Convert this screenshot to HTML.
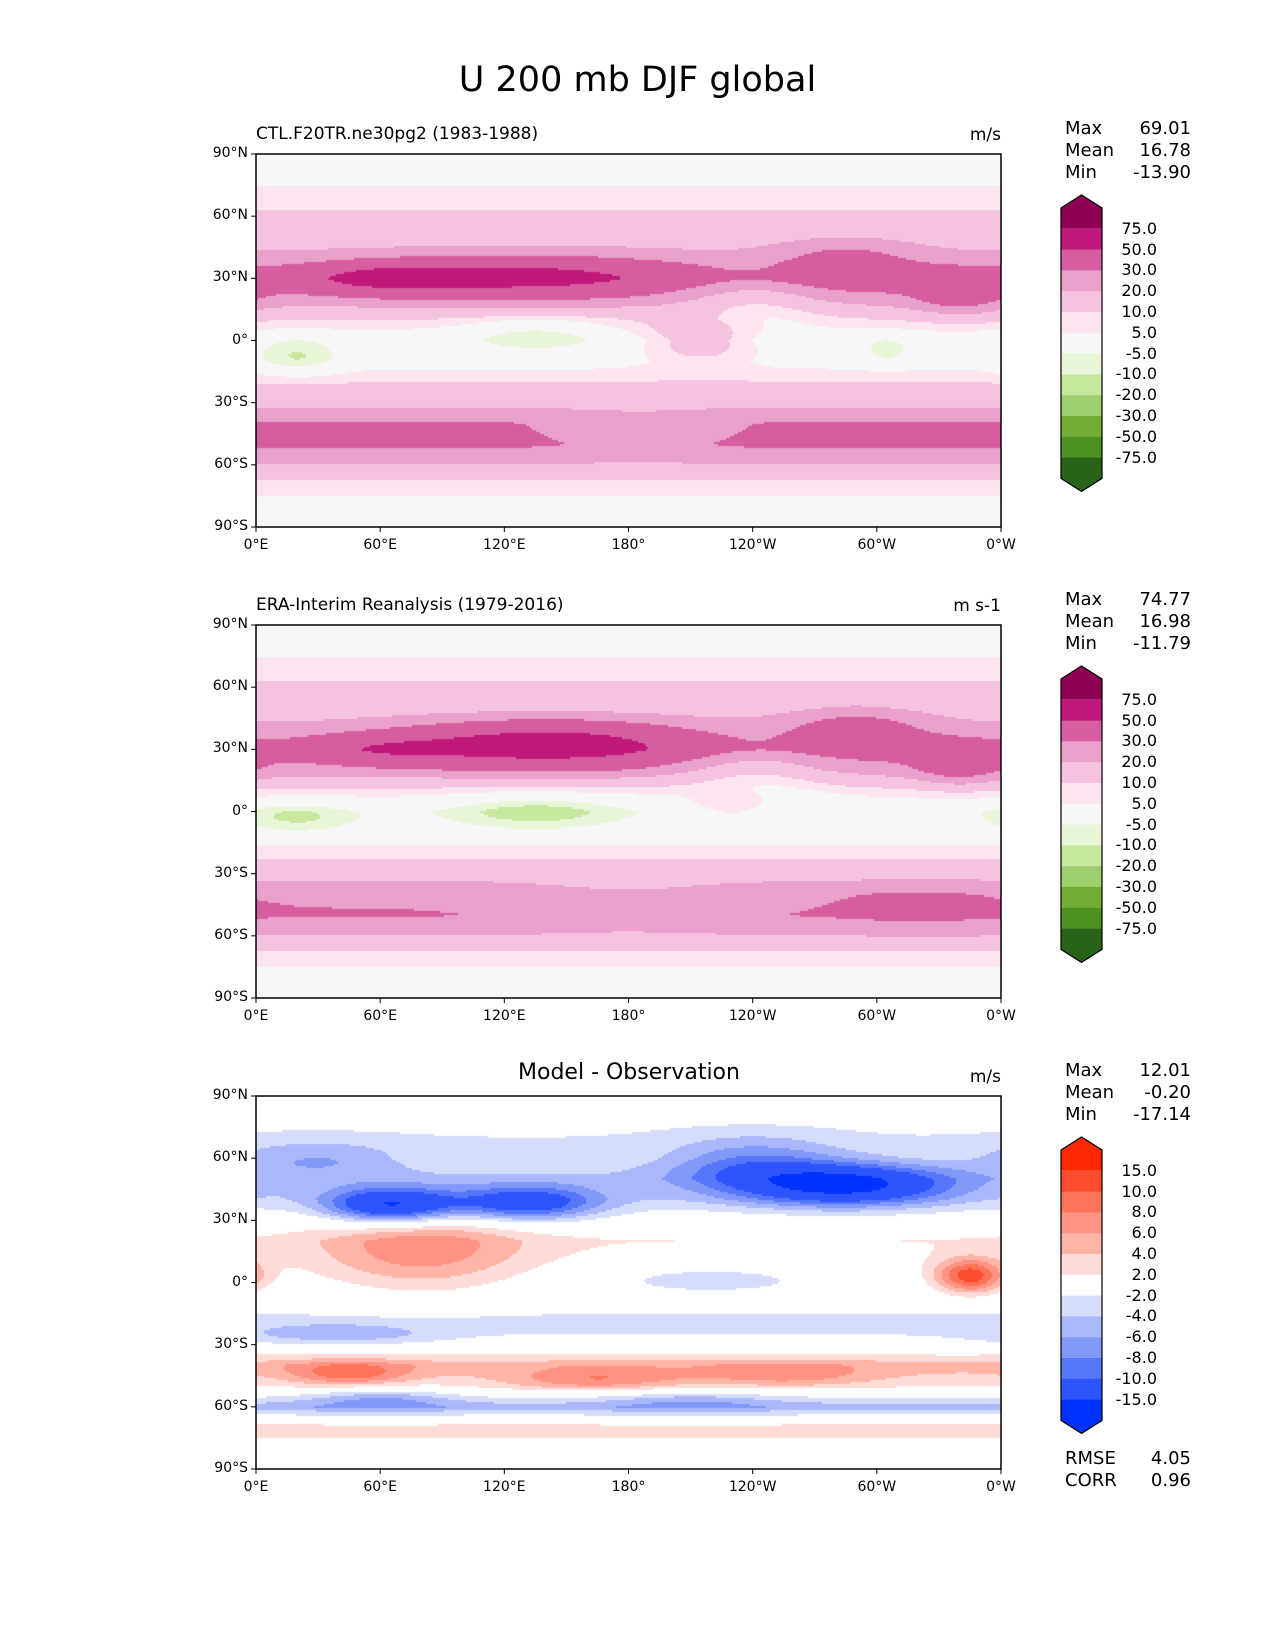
<!DOCTYPE html>
<html><head><meta charset="utf-8">
<style>
body{margin:0;background:#fff;}
#wrap{position:relative;width:1275px;height:1650px;background:#fff;font-family:"DejaVu Sans","Liberation Sans",sans-serif;color:#000;overflow:hidden;}
.t{position:absolute;white-space:nowrap;}
canvas{position:absolute;}
</style></head>
<body>
<div id="wrap">
<div class="t" style="left:0;width:1275px;text-align:center;top:60px;font-size:35px;">U 200 mb DJF global</div>
</div>
<script>
// ---- data ----
const lats=[90,80,70,60,50,40,30,20,10,0,-10,-20,-30,-40,-50,-60,-70,-80,-90];
const profModel=[1,3,7,11,14,22,34,24,10,0,2,10,17,31,33,20,7,3,1];
const profObs=[1,3,7,11,14,22,33,24,8,-2,0,8,16,28,31,20,7,3,1];
const profDiff=[0,-1,-2,-2,-4,-3,0,2,1,0,-1,-3,-1,5,2,-5,3,1,0];
// blobs: [lon, lat, amplitude, lonWidth, latWidth]
const blobsModel=[[125,31,26,55,7],[60,30,16,25,5],[285,38,14,25,9],[240,20,-12,25,10],[215,0,14,20,8],[20,-8,-12,15,6],[135,3,-10,25,6],[305,-5,-8,10,5],[340,22,15,15,7],[185,-45,-7,30,8]];
const blobsObs=[[140,33,32,50,8],[60,30,12,25,5],[290,40,16,25,8],[240,20,-12,25,10],[230,3,10,15,6],[20,-3,-10,20,5],[135,0,-12,30,6],[340,22,15,15,7],[180,-45,-8,40,8],[320,-45,5,25,6]];
const blobsDiff=[[65,37,-14,22,6],[130,38,-11,25,6],[285,47,-13,35,7],[240,57,-6,30,9],[30,60,-4,30,6],[345,3,11,12,6],[80,15,6,35,14],[45,-44,6,20,4],[165,-47,5,30,4],[255,-45,4,30,4],[60,-56,-4,25,4],[210,-57,-3,30,4],[220,2,-3,40,5],[40,-25,-4,30,3]];
const levFull=[-75,-50,-30,-20,-10,-5,5,10,20,30,50,75];
const levDiff=[-15,-10,-8,-6,-4,-2,2,4,6,8,10,15];
const colFull=["#276419","#4d9221","#71ad37","#9dcf6c","#c8e8a0","#e8f5d9","#f6f6f6","#fce5f0","#f5c3e0","#e9a0ca","#d65da0","#c0197b","#8e0152"];
const colDiff=["#0032ff","#2d55fd","#5677fb","#8199f9","#aab8fb","#d6dcfb","#ffffff","#ffdcd8","#ffb4a8","#ff9383","#ff7358","#ff4b2e","#ff2800"];
const lonTicks=["0°E","60°E","120°E","180°","120°W","60°W","0°W"];
const latTicks=["90°N","60°N","30°N","0°","30°S","60°S","90°S"];

const W=745,H=373,X0=256;
const wrap=document.getElementById('wrap');
function txt(name,s,x,y,size,align,extra){
  const d=document.createElement('div');d.className='t';
  
  
  d.textContent=s;d.style.fontSize=size+'px';d.style.top=y+'px';
  if(align==='right'){d.style.right=(1275-x)+'px';}
  else if(align==='center'){d.style.left=(x-200)+'px';d.style.width='400px';d.style.textAlign='center';}
  else d.style.left=x+'px';
  if(extra)Object.assign(d.style,extra);
  wrap.appendChild(d);return d;
}
function prof(p,lat){
  const i=(90-lat)/10;const a=Math.floor(i),b=Math.min(a+1,18);const f=i-a;
  return p[a]*(1-f)+p[b]*f;
}
function field(p,bl,lon,lat){
  let v=prof(p,lat);
  for(const b of bl){let dl=Math.abs(lon-b[0]);if(dl>180)dl=360-dl;
    v+=b[2]*Math.exp(-(dl*dl)/(2*b[3]*b[3])-((lat-b[1])*(lat-b[1]))/(2*b[4]*b[4]));}
  return v;
}
function panel(top,p,bl,lev,col,key){
  const c=document.createElement('canvas');c.width=W;c.height=H;c.style.left=X0+'px';c.style.top=top+'px';
  
  
  wrap.appendChild(c);
  const g=c.getContext('2d');
  for(let y=0;y<H;y+=2)for(let x=0;x<W;x+=2){
    const lon=(x+1)/W*360,lat=90-(y+1)/H*180;
    const v=field(p,bl,lon,lat);let k=0;while(k<lev.length&&v>lev[k])k++;
    g.fillStyle=col[k];g.fillRect(x,y,2,2);
  }
  const ns='http://www.w3.org/2000/svg';
  const s=document.createElementNS(ns,'svg');
  s.setAttribute('width',W+60);s.setAttribute('height',H+20);
  s.style.position='absolute';s.style.left=(X0-30)+'px';s.style.top=top+'px';s.style.overflow='visible';
  
  
  const r=document.createElementNS(ns,'rect');r.setAttribute('x',30);r.setAttribute('y',0);r.setAttribute('width',W);r.setAttribute('height',H);
  r.setAttribute('fill','none');r.setAttribute('stroke','#000');r.setAttribute('stroke-width','1.5');s.appendChild(r);
  for(let i=0;i<7;i++){
    const x=30+i*W/6;const l=document.createElementNS(ns,'line');
    l.setAttribute('x1',x);l.setAttribute('x2',x);l.setAttribute('y1',H);l.setAttribute('y2',H+5);l.setAttribute('stroke','#000');s.appendChild(l);
    const y=i*H/6;const m=document.createElementNS(ns,'line');
    m.setAttribute('x1',25);m.setAttribute('x2',30);m.setAttribute('y1',y);m.setAttribute('y2',y);m.setAttribute('stroke','#000');s.appendChild(m);
    txt(key+'-x-tick',lonTicks[i],X0+i*W/6,top+H+10,14,'center');
    txt(key+'-y-tick',latTicks[i],X0-8,top+y-9,14,'right');
  }
  wrap.appendChild(s);
}
function cbar(top,col,lev,key){
  const ns='http://www.w3.org/2000/svg';
  const s=document.createElementNS(ns,'svg');s.setAttribute('width',60);s.setAttribute('height',310);
  s.style.position='absolute';s.style.left='1052px';s.style.top=(top-10)+'px';
  
  
  const x0=9,x1=50,bh=20.8,y0=23;
  let pth=document.createElementNS(ns,'path');
  pth.setAttribute('d',`M${x0},${y0+bh} L${x0},${y0} L${(x0+x1)/2},${y0-13} L${x1},${y0} L${x1},${y0+bh}Z`);
  pth.setAttribute('fill',col[12]);s.appendChild(pth);
  for(let i=1;i<12;i++){const r=document.createElementNS(ns,'rect');
    r.setAttribute('x',x0);r.setAttribute('y',y0+i*bh);r.setAttribute('width',x1-x0);r.setAttribute('height',bh+0.5);
    r.setAttribute('fill',col[12-i]);s.appendChild(r);}
  const yb=y0+12*bh;
  pth=document.createElementNS(ns,'path');
  pth.setAttribute('d',`M${x0},${yb} L${x0},${yb+bh} L${(x0+x1)/2},${yb+bh+13} L${x1},${yb+bh} L${x1},${yb}Z`);
  pth.setAttribute('fill',col[0]);s.appendChild(pth);
  const o=document.createElementNS(ns,'path');
  o.setAttribute('d',`M${x0},${y0} L${(x0+x1)/2},${y0-13} L${x1},${y0} L${x1},${yb+bh} L${(x0+x1)/2},${yb+bh+13} L${x0},${yb+bh}Z`);
  o.setAttribute('fill','none');o.setAttribute('stroke','#000');o.setAttribute('stroke-width','1.2');s.appendChild(o);
  wrap.appendChild(s);
  for(let i=0;i<12;i++){
    const v=lev[11-i];
    txt(key+'-cbar-label',v.toFixed(1),1157,top-10+y0+(i+1)*bh-10,16,'right');
  }
}
function stats(top,vals,key){
  const names=['Max','Mean','Min'];
  for(let i=0;i<3;i++){
    txt(key+'-stat-name',names[i],1065,top+i*22,18);
    txt(key+'-stat-value',vals[i],1191,top+i*22,18,'right');
  }
}
panel(154,profModel,blobsModel,levFull,colFull,'model');
panel(625,profObs,blobsObs,levFull,colFull,'obs');
panel(1096,profDiff,blobsDiff,levDiff,colDiff,'diff');
cbar(195,colFull,levFull,'model');
cbar(666,colFull,levFull,'obs');
cbar(1137,colDiff,levDiff,'diff');
stats(118,['69.01','16.78','-13.90'],'model');
stats(589,['74.77','16.98','-11.79'],'obs');
stats(1060,['12.01','-0.20','-17.14'],'diff');
txt('model-title','CTL.F20TR.ne30pg2 (1983-1988)',256,124,17);
txt('model-units','m/s',1001,125,17,'right');
txt('obs-title','ERA-Interim Reanalysis (1979-2016)',256,595,17);
txt('obs-units','m s-1',1001,596,17,'right');
txt('diff-title','Model - Observation',629,1060,22,'center');
txt('diff-units','m/s',1001,1067,17,'right');
txt('rmse-label','RMSE',1065,1448,18);txt('rmse-value','4.05',1191,1448,18,'right');
txt('corr-label','CORR',1065,1470,18);txt('corr-value','0.96',1191,1470,18,'right');
</script>
</body></html>
